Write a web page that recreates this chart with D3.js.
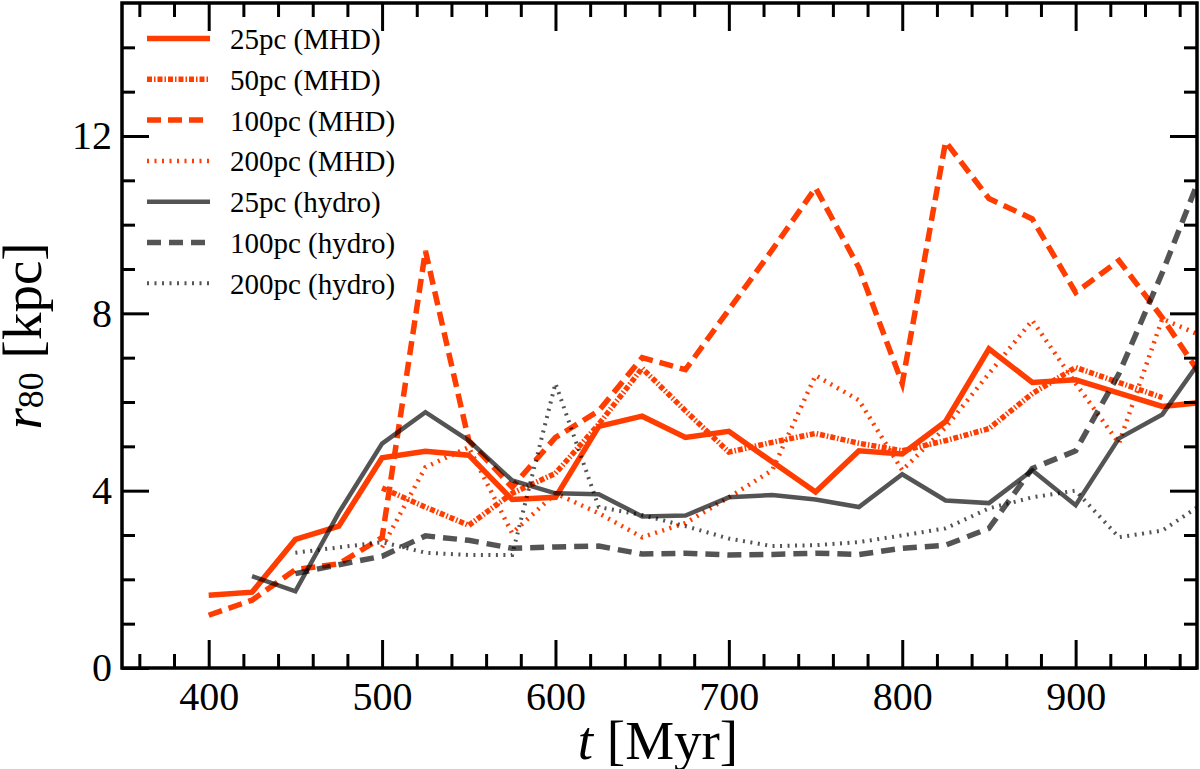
<!DOCTYPE html>
<html>
<head>
<meta charset="utf-8">
<title>r80 vs t</title>
<style>
  body { margin: 0; background: #fff; }
  svg { display: block; }
</style>
</head>
<body>
<script src="https://cdn.jsdelivr.net/npm/d3@7/dist/d3.min.js"></script>
<script>
// data, one value per 25 Myr, null = no snapshot
var times = [400, 425, 450, 475, 500, 525, 550, 575, 600, 625, 650, 675,
             700, 725, 750, 775, 800, 825, 850, 875, 900, 925, 950, 975];

var mhd25  = [1.64, 1.71, 2.90, 3.20, 4.74, 4.89, 4.80, 3.80, 3.85, 5.45, 5.68, 5.20,
              5.34, 4.65, 3.97, 4.90, 4.83, 5.56, 7.20, 6.44, 6.50, 6.20, 5.90, 6.00];
var mhd50  = [null, null, null, null, 4.06, 3.63, 3.22, 3.94, 4.39, 5.50, 6.76, 5.80,
              4.87, 5.09, 5.29, 5.07, 4.90, 5.13, 5.40, 6.19, 6.78, 6.44, 6.10, null];
var mhd100 = [1.19, 1.53, 2.22, 2.35, 2.94, 9.41, 5.13, 4.08, 5.20, 5.80, 7.00, 6.73,
              8.08, 9.43, 10.83, 9.03, 6.42, 11.87, 10.59, 10.13, 8.47, 9.19, 7.90, 6.44];
var mhd200 = [null, null, null, null, 2.72, 4.53, 4.98, 3.04, 3.94, 3.49, 2.95, 3.27,
              3.85, 4.46, 6.60, 6.04, 4.46, 5.43, 6.64, 7.84, 6.42, 5.07, 7.88, 7.45];
var hyd25  = [null, 2.07, 1.73, 3.50, 5.06, 5.77, 5.13, 4.23, 3.94, 3.92, 3.42, 3.44,
              3.85, 3.90, 3.80, 3.63, 4.37, 3.78, 3.72, 4.46, 3.67, 5.18, 5.72, 7.10];
var hyd100 = [null, null, 2.13, 2.33, 2.52, 2.98, 2.88, 2.70, 2.73, 2.75, 2.57, 2.59,
              2.55, 2.56, 2.59, 2.56, 2.70, 2.77, 3.15, 4.50, 4.90, 6.64, 8.92, 11.40];
var hyd200 = [null, null, 2.60, 2.72, 2.84, 2.60, 2.55, 2.55, 6.42, 3.63, 3.45, 3.20,
              2.92, 2.75, 2.77, 2.84, 2.99, 3.15, 3.60, 3.85, 4.00, 2.95, 3.10, 3.75];

var labels = ["25pc (MHD)", "50pc (MHD)", "100pc (MHD)", "200pc (MHD)",
              "25pc (hydro)", "100pc (hydro)", "200pc (hydro)"];

var xTicks = [400, 500, 600, 700, 800, 900];
var yTicks = [0, 4, 8, 12];

var red = "#ff3d00";
var grey = "#000";

var series = [
    { label: labels[0], values: mhd25,  color: red,  opacity: 1,    width: 5.5, dash: null },
    { label: labels[1], values: mhd50,  color: red,  opacity: 1,    width: 5.5, dash: "5,2,1.5,2" },
    { label: labels[2], values: mhd100, color: red,  opacity: 1,    width: 5.5, dash: "14,7" },
    { label: labels[3], values: mhd200, color: red,  opacity: 1,    width: 4.5, dash: "2,5.5" },
    { label: labels[4], values: hyd25,  color: grey, opacity: 0.67, width: 4.5, dash: null },
    { label: labels[5], values: hyd100, color: grey, opacity: 0.67, width: 5.5, dash: "14,8" },
    { label: labels[6], values: hyd200, color: grey, opacity: 0.67, width: 4,   dash: "2,5.5" }
];

var W = 1200, H = 769;
var pL = 122, pR = 1197, pT = 3, pB = 668;
var font = "'Liberation Serif', 'Times New Roman', serif";

var svg = d3.select("body").append("svg")
    .attr("width", W)
    .attr("height", H);

var x = d3.scaleLinear().domain([350, 970]).range([pL, pR]);
var y = d3.scaleLinear().domain([0, 15]).range([pB, pT]);

svg.append("clipPath").attr("id", "plotclip")
    .append("rect")
    .attr("x", pL).attr("y", pT)
    .attr("width", pR - pL).attr("height", pB - pT);

// lines
var line = d3.line()
    .defined(function (d) { return d.v != null; })
    .x(function (d) { return x(d.t); })
    .y(function (d) { return y(d.v); });

var plot = svg.append("g").attr("clip-path", "url(#plotclip)");

series.forEach(function (s) {
    var pts = times.map(function (t, i) { return { t: t, v: s.values[i] }; });
    plot.append("path")
        .datum(pts)
        .attr("fill", "none")
        .attr("stroke", s.color)
        .attr("stroke-opacity", s.opacity)
        .attr("stroke-width", s.width)
        .attr("stroke-dasharray", s.dash)
        .attr("stroke-linejoin", "miter")
        .attr("d", line);
});

// axes: ticks inside on all four sides
var xMinor = d3.range(360, 971, 20).filter(function (t) { return t % 100 != 0; });
var yMinor = d3.range(1, 15, 1).filter(function (v) { return v % 4 != 0; });

function styleAxis(g) {
    g.select(".domain").remove();
    g.selectAll(".tick line").attr("stroke", "#000").attr("stroke-width", 3);
    g.selectAll("text")
        .attr("font-family", font)
        .attr("font-size", 40)
        .attr("fill", "#000");
}

svg.append("g").attr("transform", "translate(0," + pB + ")")
    .call(d3.axisBottom(x).tickValues(xTicks).tickSize(-28).tickPadding(14).tickFormat(d3.format("d")))
    .call(styleAxis);
svg.append("g").attr("transform", "translate(0," + pB + ")")
    .call(d3.axisBottom(x).tickValues(xMinor).tickSize(-14).tickFormat(""))
    .call(styleAxis);
svg.append("g").attr("transform", "translate(0," + pT + ")")
    .call(d3.axisTop(x).tickValues(xTicks).tickSize(-28).tickFormat(""))
    .call(styleAxis);
svg.append("g").attr("transform", "translate(0," + pT + ")")
    .call(d3.axisTop(x).tickValues(xMinor).tickSize(-14).tickFormat(""))
    .call(styleAxis);

svg.append("g").attr("transform", "translate(" + pL + ",0)")
    .call(d3.axisLeft(y).tickValues(yTicks).tickSize(-27).tickPadding(10).tickFormat(d3.format("d")))
    .call(styleAxis);
svg.append("g").attr("transform", "translate(" + pL + ",0)")
    .call(d3.axisLeft(y).tickValues(yMinor).tickSize(-13).tickFormat(""))
    .call(styleAxis);
svg.append("g").attr("transform", "translate(" + pR + ",0)")
    .call(d3.axisRight(y).tickValues(yTicks).tickSize(-27).tickFormat(""))
    .call(styleAxis);
svg.append("g").attr("transform", "translate(" + pR + ",0)")
    .call(d3.axisRight(y).tickValues(yMinor).tickSize(-13).tickFormat(""))
    .call(styleAxis);

// frame
svg.append("rect")
    .attr("x", pL).attr("y", pT)
    .attr("width", pR - pL).attr("height", pB - pT)
    .attr("fill", "none")
    .attr("stroke", "#000")
    .attr("stroke-width", 3.5);

// axis titles
var xt = svg.append("text")
    .attr("x", 658)
    .attr("y", 759)
    .attr("text-anchor", "middle")
    .attr("font-family", font)
    .attr("font-size", 55);
xt.append("tspan").attr("font-style", "italic").text("t");
xt.append("tspan").text(" [Myr]");

var yt = svg.append("text")
    .attr("transform", "translate(41,336) rotate(-90)")
    .attr("text-anchor", "middle")
    .attr("font-family", font)
    .attr("font-size", 55);
yt.append("tspan").attr("font-style", "italic").text("r");
yt.append("tspan").attr("font-size", 36).attr("dy", 2).text("80");
yt.append("tspan").attr("dy", -2).text(" [kpc]");

// legend
var legend = svg.append("g");
series.forEach(function (s, i) {
    var ly = 38.5 + i * 40.8;
    legend.append("line")
        .attr("x1", 147).attr("x2", 210)
        .attr("y1", ly).attr("y2", ly)
        .attr("stroke", s.color)
        .attr("stroke-opacity", s.opacity)
        .attr("stroke-width", s.width)
        .attr("stroke-dasharray", s.dash);
    legend.append("text")
        .attr("x", 230)
        .attr("y", ly + 10.5)
        .attr("font-family", font)
        .attr("font-size", 29)
        .text(s.label);
});
</script>
</body>
</html>
